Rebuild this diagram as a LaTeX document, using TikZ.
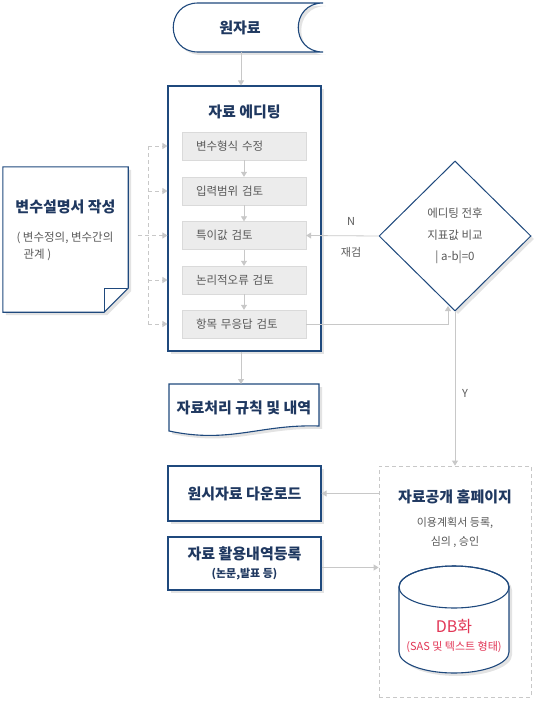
\documentclass[tikz,border=0pt]{standalone}
\usepackage{fontspec}
\setmainfont{Noto Sans CJK KR}
\usetikzlibrary{shapes.geometric,arrows.meta,shadows,positioning}
\definecolor{navy}{RGB}{31,73,125}
\definecolor{navytext}{RGB}{31,56,96}
\definecolor{boxgray}{RGB}{236,236,236}
\definecolor{boxline}{RGB}{218,218,218}
\definecolor{linegray}{RGB}{200,200,200}
\definecolor{textgray}{RGB}{89,89,89}
\definecolor{dbred}{RGB}{226,54,86}
\tikzset{
  boxshadow/.style={drop shadow={shadow xshift=3pt,shadow yshift=-3pt,fill=black!11,opacity=1}},
  outline/.style={draw=navy,line width=1.1pt,fill=white,boxshadow},
  bluebox/.style={outline,text=navytext,minimum width=153pt,align=center,font=\fontsize{15}{20}\selectfont\bfseries},
  stepbox/.style={draw=boxline,fill=boxgray,minimum height=28pt,text width=96pt,inner xsep=14pt,inner ysep=0pt,align=left,text=textgray,font=\fontsize{11.5}{13}\selectfont},
  title/.style={text=navytext,font=\fontsize{15}{17}\selectfont\bfseries},
  note/.style={text=textgray,font=\fontsize{11}{13}\selectfont},
  flow/.style={draw=linegray,line width=0.8pt,-{Triangle[width=6pt,length=5pt]}},
  dashflow/.style={flow,dash pattern=on 4pt off 3pt}
}
\begin{document}
\begin{tikzpicture}[x=1pt,y=-1pt]
  \useasboundingbox (0,0) rectangle (535,701);

  % source data
  \draw[outline] (198,3) -- (323,3) .. controls (290,3) and (290,52) .. (323,52)
    -- (198,52) .. controls (165,52) and (165,3) .. (198,3) -- cycle;
  \node[title] (src) at (240,27.5) {원자료};
  \coordinate (srcb) at (241,52);

  % editing block
  \node[outline,minimum width=153pt,minimum height=265pt] (edit) at (244.5,218.5) {};
  \node[title] (edittitle) at (244.5,112) {자료 에디팅};
  \node[stepbox] (b1) at (244,146) {변수형식 수정};
  \node[stepbox] (b2) at (244,191) {입력범위 검토};
  \node[stepbox] (b3) at (244,235.5) {특이값 검토};
  \node[stepbox] (b4) at (244,280) {논리적오류 검토};
  \node[stepbox] (b5) at (244,324) {항목 무응답 검토};
  \draw[flow] (srcb) -- (srcb |- edit.north);
  \draw[flow] (b1) -- (b2);
  \draw[flow] (b2) -- (b3);
  \draw[flow] (b3) -- (b4);
  \draw[flow] (b4) -- (b5);

  % codebook
  \node[minimum width=125pt,minimum height=145pt] (doc) at (65.5,239.5) {};
  \draw[outline] (doc.north west) -- (doc.north east) -- ([yshift=24pt]doc.south east)
    -- ([xshift=-24pt]doc.south east) -- (doc.south west) -- cycle;
  \draw[draw=navy,line width=1.1pt] ([xshift=-24pt]doc.south east) -- ([xshift=-24pt,yshift=24pt]doc.south east)
    -- ([yshift=24pt]doc.south east);
  \node[title] (doctitle) at (65.5,207) {변수설명서 작성};
  \node[note,anchor=west,align=left,font=\fontsize{11.5}{17}\selectfont] (docnote) at (13,246.5)
    {( 변수정의, 변수간의\\\hspace{7pt}관계 )};

  % dashed feed
  \coordinate (spine) at (148,146);
  \draw[linegray,line width=0.8pt,dash pattern=on 4pt off 3pt] (spine) -- (spine |- b5.west);
  \foreach \b in {b1,b2,b4,b5}
    \draw[dashflow] (spine |- \b.west) -- (edit.west |- \b.west);
  \draw[dashflow] ([xshift=10pt]doc.east |- b3.west) -- (edit.west |- b3.west);

  % comparison
  \node[diamond,draw=navy,line width=1pt,fill=white,boxshadow,minimum width=152pt,minimum height=150pt,
    inner sep=0pt,text=textgray,align=center,font=\fontsize{11.5}{21.5}\selectfont] (cmp) at (455,236)
    {에디팅 전후\\지표값 비교\\| a-b|=0};
  \draw[flow] (cmp.west) -- (b3.east);
  \node[note] (nlabel) at (351,221) {N};
  \node[note] (recheck) at (351,252) {재검};
  \coordinate (cmpin) at (448,306);
  \draw[flow] (b5.east) -| (cmpin);

  % rules document
  \draw[outline] (169,384) -- (319,384) -- (319,426) .. controls (260,424) and (230,444) .. (169,431) -- cycle;
  \node[title] (rules) at (244,408) {자료처리 규칙 및 내역};
  \coordinate (rulestop) at (241,384);
  \draw[flow] (srcb |- edit.south) -- (rulestop);

  % homepage
  \node[draw=linegray,line width=0.8pt,dash pattern=on 4pt off 3pt,minimum width=152pt,minimum height=231pt] (pub) at (455,581.5) {};
  \node[title] (pubtitle) at (455,497) {자료공개 홈페이지};
  \node[note,align=center,font=\fontsize{11}{19}\selectfont] (pubnote) at (455,532.5) {이용계획서 등록,\\심의 , 승인};
  \draw[flow] (cmp.south) -- (pub.north);
  \node[note] (ylabel) at (465,393) {Y};

  % database
  \draw[outline] (399,587) -- (399,652) arc[start angle=180,end angle=0,x radius=55,y radius=21]
    -- (509,587) arc[start angle=0,end angle=-180,x radius=55,y radius=21] -- cycle;
  \draw[draw=navy,line width=1.1pt] (454,587) ellipse[x radius=55,y radius=21];
  \node[text=dbred,font=\fontsize{16}{18}\selectfont] (db) at (454,627) {DB화};
  \node[text=dbred,font=\fontsize{11}{13}\selectfont] (dbnote) at (454,647) {(SAS 및 텍스트 형태)};

  % outputs
  \node[bluebox,minimum height=55pt] (dl) at (244.5,493.5) {원시자료 다운로드};
  \node[bluebox,minimum height=53pt] (reg) at (244.5,563.5)
    {자료 활용내역등록\\[-2pt]{\fontsize{11}{13}\selectfont(논문,발표 등)}};
  \draw[flow] (pub.west |- dl.east) -- (dl.east);
  \draw[flow] ([yshift=-4pt]reg.east) -- ([yshift=-4pt]pub.west |- reg.east);
\end{tikzpicture}
\end{document}
